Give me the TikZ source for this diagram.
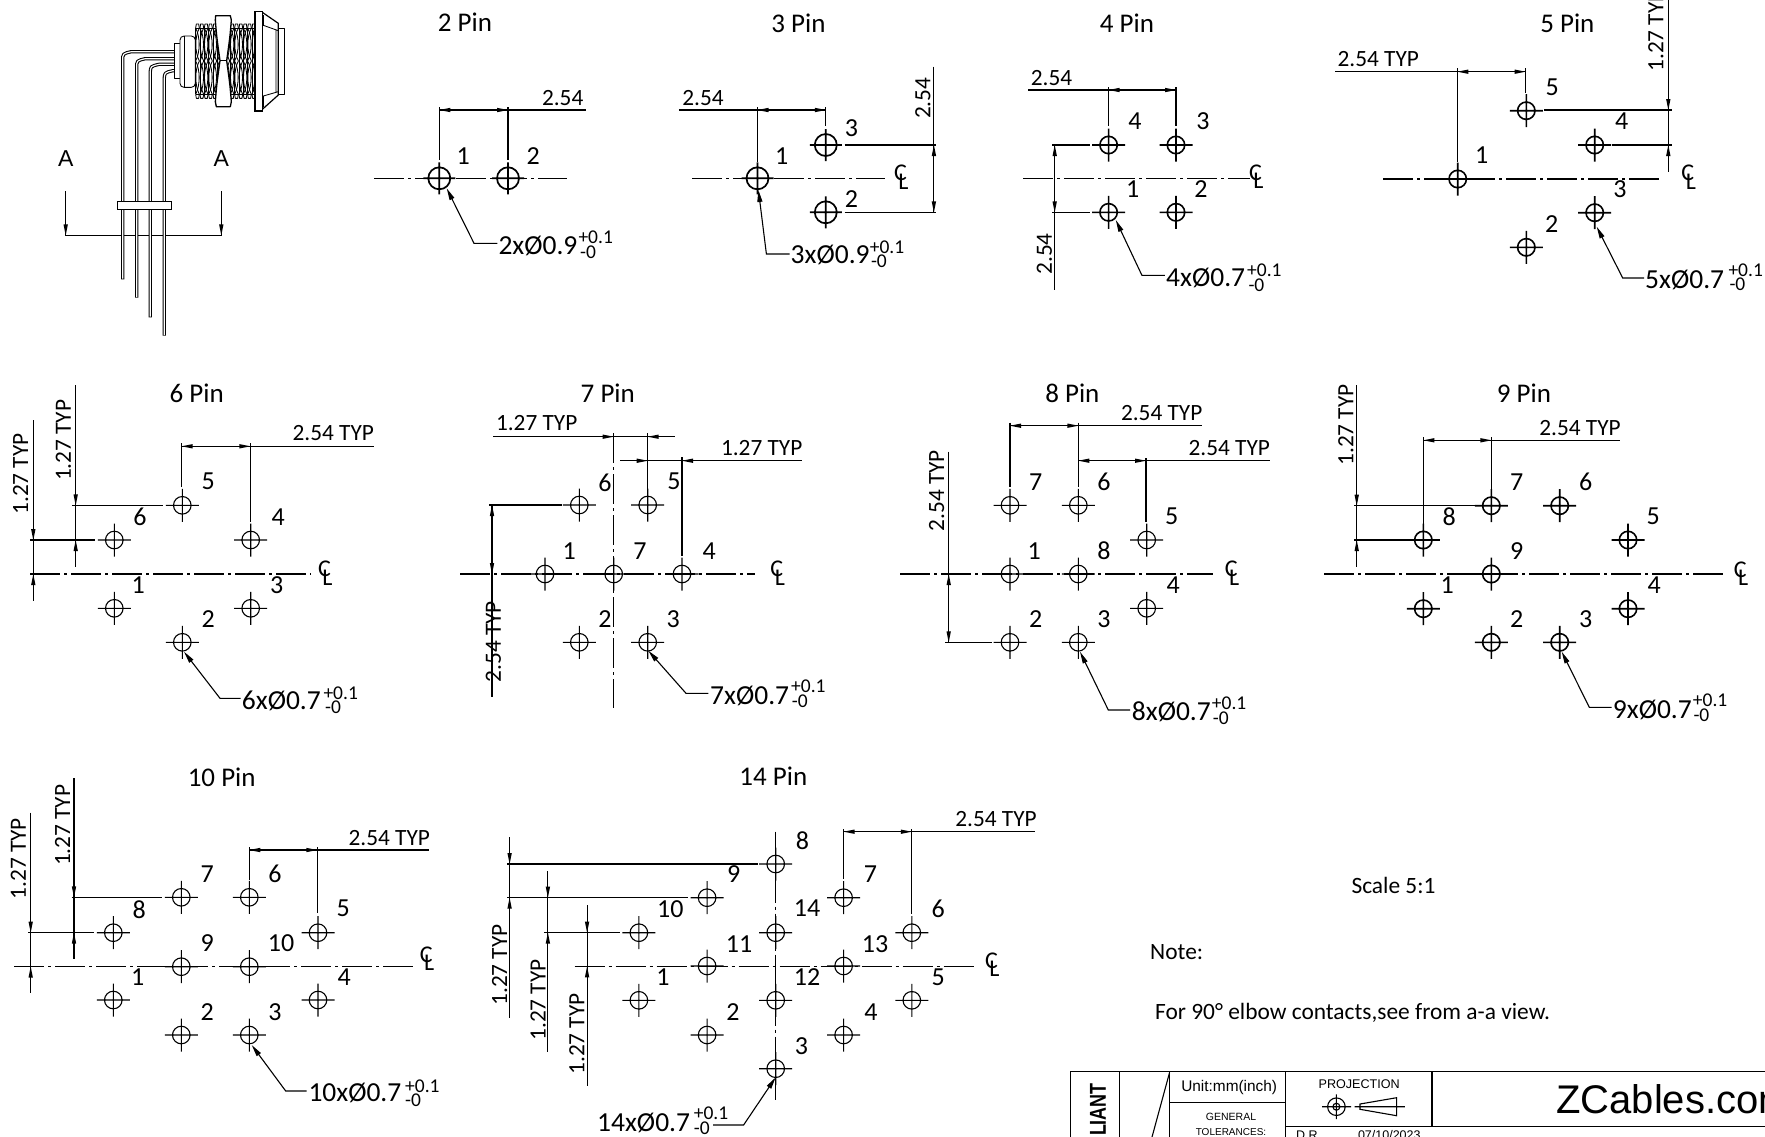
\documentclass[tikz,border=0pt]{standalone}
\usetikzlibrary{arrows.meta}
\usepackage{fontspec}
\setmainfont{Carlito}
\newfontfamily\arialf{Liberation Sans}
\newcommand{\fsz}[1]{\fontsize{#1}{#1}\selectfont}
\tikzset{
  ln/.style={line width=1.1pt,black},
  cline/.style={line width=1.1pt,black,dash pattern=on 30pt off 4pt on 3pt off 4pt},
  pinno/.style={font=\fsz{26},inner sep=0pt},
  title/.style={font=\fsz{27},inner sep=0pt},
  dimt/.style={font=\fsz{23.3},inner sep=0pt},
  cltext/.style={font=\fsz{24},inner sep=0pt},
  mainnote/.style={font=\fsz{27.5},inner sep=0pt,anchor=base west,yshift=-.7pt},
  tolnote/.style={font=\fsz{19.5},inner sep=0pt,anchor=west},
  body/.style={font=\fsz{23.4},inner sep=0pt},
  sect/.style={font=\arialf\fsz{23},inner sep=0pt},
  tb/.style={line width=1.2pt,black},
  tbt/.style={font=\arialf\fsz{#1},inner sep=0pt},
  leadertip/.style={line width=1.1pt,black,{Triangle[length=12pt,width=5pt]}-},
  conn/.style={line width=.85pt,black,line join=round},
}
\newcommand{\mkhole}[5]{\draw[line width=#3,black] (#1,#2) circle[radius=#4] (#1-#5,#2)--(#1+#5,#2) (#1,#2-#5)--(#1,#2+#5);}
\newcommand{\holeL}[2]{\mkhole{#1}{#2}{1.7pt}{11pt}{16}}
\newcommand{\holeT}[2]{\mkhole{#1}{#2}{1.6pt}{8.7pt}{16.5}}
\newcommand{\holeS}[2]{\mkhole{#1}{#2}{1.1pt}{8.8pt}{16.5}}
\newcommand{\atip}[3]{\fill[black,shift={(#1,#2)},rotate=#3] (0,0)--(-11,-2.2)--(-11,2.2)--cycle;}
\newcommand{\clmark}[3]{\node[cltext] (#1c) at (#2-1.5,#3-4.5) {C};\node[cltext] (#1l) at (#2+1.5,#3+4) {L};}
% name, x, base y, text, sup x, sup y, sub x, sub y
\newcommand{\tolr}[8]{\node[mainnote] (#1) at (#2,#3) {#4};
  \node[tolnote] (#1p) at (#5,#6) {+0.1};\node[tolnote] (#1m) at (#7,#8) {-0};}
\newcommand{\wire}[3]{%
  \draw[black,line width=3.3pt,line join=round] (#1,#2)--(#1,#3+28) .. controls (#1,#3+6) .. (#1+26,#3)--(432,#3);
  \draw[white,line width=1.2pt] (#1,#2-2)--(#1,#3+28) .. controls (#1,#3+6) .. (#1+26,#3)--(432,#3);}
\begin{document}
\begin{tikzpicture}[x=1pt,y=-1pt]
\useasboundingbox (0,0) rectangle (1765,1136);
\fill[white] (0,0) rectangle (1765,1136);
\clip (0,0) rectangle (1765,1136);

%% ---------- side view connector
\draw[line width=1.2pt] (65.7,191)--(65.7,235.3)--(221.3,235.3)--(221.3,191);
\atip{65.7}{235.3}{270}
\atip{221.3}{235.3}{270}
\node[sect] (sa) at (65.7,159) {A};
\node[sect] (sb) at (221.3,159) {A};
\begin{scope}[shift={(30,0)},x=.33333pt,y=-.33333pt]
  \wire{278}{838}{155}
  \wire{320}{893}{176}
  \wire{361}{952}{193}
  \wire{403}{1007}{212}
  % rear stub and collar
  \draw[conn,fill=white] (432,130) rectangle (450,235);
  \draw[conn,fill=white,rounded corners=4pt] (450,108) rectangle (496,262);
  \draw[conn] (462,108)--(462,262);
  % thread block
  \foreach \x in {497,510,523,536,549,562,575,588,601,614,627,640,653,666}{
    \draw[conn,fill=white] (\x,84)--(\x+2,72)--(\x+9,72)--(\x+11,84);
    \draw[conn,fill=white] (\x,283)--(\x+2,295)--(\x+9,295)--(\x+11,283);
    \draw[conn] (\x,84) .. controls (\x+14,112) and (\x+14,155) .. (\x,183) .. controls (\x+14,210) and (\x+14,255) .. (\x,283);
    \draw[conn] (\x+11,84) .. controls (\x-3,112) and (\x-3,155) .. (\x+11,183) .. controls (\x-3,210) and (\x-3,255) .. (\x+11,283);
    \draw[conn] (\x,84)--(\x,283);
  }
  \draw[conn] (497,84)--(675,84) (497,283)--(675,283);
  % nut (hourglass silhouette over the thread)
  \draw[line width=1.3pt,black,fill=white,line join=round] (557,47)--(601,47)--(604,60) .. controls (600,110) .. (590,182) .. controls (600,255) .. (604,305)--(601,320)--(559,320)--(556,305) .. controls (560,255) .. (570,182) .. controls (560,110) .. (556,60)--cycle;
  \draw[conn] (570,182)--(590,182);
  % flange and front
  \draw[conn,fill=white] (745,85) rectangle (763,283);
  \draw[line width=1.2pt,black,fill=white,line join=round] (697,37)--(745,70)--(745,285)--(697,328)--cycle;
  \draw[conn] (700,45)--(700,76)--(745,92) (700,322)--(700,288)--(745,275) (738,92)--(738,275) (697,76)--(697,288);
  \draw[line width=1.2pt,black,fill=white] (675,35) rectangle (697,333);
\end{scope}
\draw[line width=1.1pt,fill=white] (117.3,201.3) rectangle (171.7,209.3);

%% ---------- 2 Pin
\node[title] (t2) at (465,22.5) {2 Pin};
\draw[cline] (374,178.3)--(567.3,178.3);
\holeL{439.3}{178.3}\holeL{508}{178.3}
\draw[ln] (439.3,107)--(439.3,160) (508,107)--(508,160) (439.3,110)--(586,110);
\atip{439.3}{110}{180}\atip{508}{110}{0}
\node[dimt] (d2) at (562.7,98.3) {2.54};
\foreach \t/\x/\y in {1/463.3/155.7,2/533.3/155.7}{\node[pinno] (n2-\t) at (\x,\y) {\t};}
\draw[leadertip] (446.7,188.3)--(474,243.3)--(497.3,243.3);
\tolr{c2}{498.3}{254}{2xØ0.9}{578.3}{237.7}{580}{252.7}

%% ---------- 3 Pin
\node[title] (t3) at (798.5,23) {3 Pin};
\draw[cline] (692,178.3)--(885,178.3);
\holeL{757.5}{178.3}\holeL{825.8}{145}\holeL{825.8}{212.3}
\clmark{cl3}{902}{177.3}
\draw[ln] (678.8,110)--(825.8,110) (757.5,107)--(757.5,162) (825.8,107.3)--(825.8,126);
\atip{757.5}{110}{180}\atip{825.8}{110}{0}
\node[dimt] (d3a) at (703,98) {2.54};
\draw[ln] (933.9,66.7)--(933.9,212.3) (844.7,145)--(935.9,145) (844.7,212.3)--(935.9,212.3);
\atip{933.9}{145}{90}\atip{933.9}{212.3}{270}
\node[dimt,rotate=90] (d3b) at (923,98.3) {2.54};
\foreach \t/\x/\y in {1/781.6/155.7,3/851.5/127.7,2/851.5/199}{\node[pinno] (n3-\t) at (\x,\y) {\t};}
\draw[leadertip] (758.4,190)--(766.4,254)--(789.7,254);
\tolr{c3}{790.5}{263}{3xØ0.9}{869.6}{247.3}{870.8}{261.7}

%% ---------- 4 Pin
\node[title] (t4) at (1127,23) {4 Pin};
\draw[cline] (1023.4,178.3)--(1250.3,178.3);
\foreach \x/\y in {1108.6/145,1176/145,1108.6/212.3,1176/212.3}{\holeT{\x}{\y}}
\clmark{cl4}{1257}{177}
\draw[ln] (1028.2,90)--(1176,90) (1108.6,87.3)--(1108.6,126) (1176,87.3)--(1176,126);
\atip{1108.6}{90}{180}\atip{1176}{90}{0}
\node[dimt] (d4a) at (1051.5,78) {2.54};
\draw[ln] (1054.7,145)--(1054.7,290) (1052.3,145)--(1089.7,145) (1052.3,212.3)--(1089.7,212.3);
\atip{1054.7}{145}{90}\atip{1054.7}{212.3}{270}
\node[dimt,rotate=90] (d4b) at (1044.3,254) {2.54};
\foreach \t/\x/\y in {4/1135/120.7,3/1203/120.7,1/1132.6/189.3,2/1201/189.3}{\node[pinno] (n4-\t) at (\x,\y) {\t};}
\draw[leadertip] (1115.8,220)--(1141.9,275.3)--(1164.8,275.3);
\tolr{c4}{1166}{285.7}{4xØ0.7}{1247}{270}{1248.3}{285}

%% ---------- 5 Pin
\node[title] (t5) at (1567.3,23.3) {5 Pin};
\draw[cline] (1383.3,179)--(1661.7,179);
\foreach \x/\y in {1457.7/179,1526.3/110.7,1594.7/145,1594.7/212.7,1526.3/247.3}{\holeT{\x}{\y}}
\clmark{cl5}{1689.3}{177.3}
\draw[ln] (1335,71.7)--(1525.7,71.7) (1457.3,68.3)--(1457.3,161.7) (1525.7,68.3)--(1525.7,92.7);
\atip{1457.3}{71.7}{180}\atip{1525.7}{71.7}{0}
\node[dimt] (d5a) at (1378.3,59) {2.54 TYP};
\draw[ln] (1668.3,0)--(1668.3,171.7) (1544,110)--(1671.7,110) (1611.7,145)--(1671.7,145);
\atip{1668.3}{110}{270}\atip{1668.3}{145}{90}
\node[dimt,rotate=90] (d5b) at (1656,31) {1.27 TYP};
\foreach \t/\x/\y in {5/1552.3/87.3,4/1621.7/120.7,1/1481.7/155,3/1620/189.3,2/1551.7/224}{\node[pinno] (n5-\t) at (\x,\y) {\t};}
\draw[leadertip] (1596.7,226.7)--(1622.7,278)--(1644,278);
\tolr{c5}{1645}{287.3}{5xØ0.7}{1728.3}{270}{1729.3}{284}

%% ---------- 6 Pin
\node[title] (t6) at (196.7,393.5) {6 Pin};
\draw[cline] (30,574)--(311,574);
\foreach \x/\y in {114.3/540,250.7/540,182.3/505.3,114.3/608.3,250.7/608.3,182.3/642.3}{\holeS{\x}{\y}}
\clmark{cl6}{326}{573.3}
\draw[ln] (181.7,446.3)--(374,446.3) (181.7,443.3)--(181.7,486.7) (250.3,443.3)--(250.3,521.7);
\atip{181.7}{446.3}{180}\atip{250.3}{446.3}{0}
\node[dimt] (d6a) at (333.3,433.3) {2.54 TYP};
\draw[ln] (75.7,385)--(75.7,566.7) (72.3,505.3)--(163.3,505.3) (30,540)--(95,540) (33.3,420)--(33.3,601);
\atip{75.7}{505.3}{270}\atip{75.7}{540}{90}\atip{33.3}{540}{270}\atip{33.3}{574}{90}
\node[dimt,rotate=90] (d6b) at (63.3,440.3) {1.27 TYP};
\node[dimt,rotate=90] (d6c) at (20.7,474) {1.27 TYP};
\foreach \t/\x/\y in {5/208.3/481.7,4/278.3/516.7,6/140/516.7,1/138.3/585,3/276.7/585,2/208.3/619}{\node[pinno] (n6-\t) at (\x,\y) {\t};}
\draw[leadertip] (184,651.7)--(220,698.3)--(240.7,698.3);
\tolr{c6}{241.7}{709}{6xØ0.7}{323.3}{693.3}{325}{707.3}

%% ---------- 7 Pin
\node[title] (t7) at (607.8,393.5) {7 Pin};
\draw[cline] (460,574)--(755,574);
\draw[cline] (613.7,433.3)--(613.7,708.3);
\foreach \x/\y in {579.3/505,647.7/505,545/574,613.7/574,682/574,579.3/642.3,647.7/642.3}{\holeS{\x}{\y}}
\clmark{cl7}{778.3}{573.3}
\draw[ln] (493.3,436.7)--(675,436.7) (647.7,433.3)--(647.7,489.3) (620,460.7)--(802.3,460.7) (682,457.3)--(682,556);
\atip{613.7}{436.7}{0}\atip{647.7}{436.7}{180}\atip{647.7}{460.7}{0}\atip{682}{460.7}{180}
\node[dimt] (d7a) at (536.7,423.5) {1.27 TYP};
\node[dimt] (d7b) at (761.7,448.5) {1.27 TYP};
\draw[ln] (492,505)--(492,696.7) (489.3,505)--(561.7,505);
\atip{492}{505}{90}\atip{492}{574}{270}
\node[dimt,rotate=90] (d7c) at (493.3,641.7) {2.54 TYP};
\foreach \t/\x/\y in {1/569.3/550.7,7/640/550.7,4/709.3/550.7,6/605/482.7,5/674/481.7,2/605/619.3,3/673.3/619.3}{\node[pinno] (n7-\t) at (\x,\y) {\t};}
\draw[leadertip] (648.3,650.7)--(686,693.3)--(708.3,693.3);
\tolr{c7}{710}{704}{7xØ0.7}{791}{686.7}{791.7}{701.7}

%% ---------- 8 Pin
\node[title] (t8) at (1072.3,393.5) {8 Pin};
\draw[cline] (900,574)--(1213.3,574);
\foreach \x/\y in {1010/505.3,1078.3/505.3,1146.7/540,1010/574,1078.3/574,1146.7/608.3,1010/642.3,1078.3/642.3}{\holeS{\x}{\y}}
\clmark{cl8}{1232.7}{573.3}
\draw[ln] (1010,425.7)--(1201.7,425.7) (1010,422.7)--(1010,486.7) (1078.3,422.7)--(1078.3,486.7) (1078.3,460.7)--(1270,460.7) (1146,458.3)--(1146,521.7);
\atip{1010}{425.7}{180}\atip{1078.3}{425.7}{0}\atip{1078.3}{460.7}{180}\atip{1146}{460.7}{0}
\node[dimt] (d8a) at (1161.7,413.5) {2.54 TYP};
\node[dimt] (d8b) at (1229.3,448.3) {2.54 TYP};
\draw[ln] (948.7,451.7)--(948.7,642.3) (945,642.3)--(991.7,642.3);
\atip{948.7}{574}{90}\atip{948.7}{642.3}{270}
\node[dimt,rotate=90] (d8c) at (936.7,490.7) {2.54 TYP};
\foreach \t/\x/\y in {7/1035.7/481.7,6/1104/481.7,5/1171.7/516.7,1/1034.3/550.7,8/1104/550.7,4/1173.3/585,2/1035.7/619,3/1104/619}{\node[pinno] (n8-\t) at (\x,\y) {\t};}
\draw[leadertip] (1080,651.7)--(1108.3,710)--(1130,710);
\tolr{c8}{1131.7}{720}{8xØ0.7}{1211.7}{703.3}{1212.7}{718.3}

%% ---------- 9 Pin
\node[title] (t9) at (1524,393.5) {9 Pin};
\draw[cline] (1324,574)--(1726.7,574);
\foreach \x/\y in {1491.3/505.7,1559.7/505.7,1423.3/540,1628/540,1491.3/574,1423.3/608.7,1628/608.7,1491.3/642.3,1559.7/642.3}{\holeT{\x}{\y}}
\clmark{cl9}{1741.7}{574}
\draw[ln] (1423.3,440.3)--(1620,440.3) (1423.3,437.3)--(1423.3,526.7) (1491.3,437.3)--(1491.3,490);
\atip{1423.3}{440.3}{180}\atip{1491.3}{440.3}{0}
\node[dimt] (d9a) at (1580,428.3) {2.54 TYP};
\draw[ln] (1356.7,385)--(1356.7,566.7) (1354,505.7)--(1475.7,505.7) (1354,540)--(1406.7,540);
\atip{1356.7}{505.7}{270}\atip{1356.7}{540}{90}
\node[dimt,rotate=90] (d9b) at (1346,425) {1.27 TYP};
\foreach \t/\x/\y in {7/1516.7/481.7,6/1585.7/481.7,8/1449.3/516.7,5/1653.3/516.7,9/1516.7/550.7,1/1447.3/585,4/1654.3/585,2/1516.7/619,3/1585.7/619}{\node[pinno] (n9-\t) at (\x,\y) {\t};}
\draw[leadertip] (1561.7,651.7)--(1589.3,707.3)--(1611.7,707.3);
\tolr{c9}{1612.7}{717.3}{9xØ0.7}{1692.7}{700}{1693.3}{715}

%% ---------- 10 Pin
\node[title] (t10) at (221.7,777.3) {10 Pin};
\draw[cline] (14,966.7)--(416.7,966.7);
\foreach \x/\y in {181.3/897.3,249.3/897.3,113.3/932.7,318/932.7,181.3/966.7,249.3/966.7,113.3/1000,318/1000,181.3/1035,249.3/1035}{\holeS{\x}{\y}}
\clmark{cl10}{427.7}{959}
\draw[ln] (249.3,850)--(429.3,850) (249.3,847.3)--(249.3,880) (317.3,847.3)--(317.3,913.3);
\atip{249.3}{850}{180}\atip{317.3}{850}{0}
\node[dimt] (d10a) at (389.3,838.3) {2.54 TYP};
\draw[ln] (74,778.3)--(74,959.3) (71.7,897.3)--(162.3,897.3) (28.3,932.7)--(94,932.7) (30.7,812.7)--(30.7,993.3);
\atip{74}{897.3}{270}\atip{74}{932.7}{90}\atip{30.7}{932.7}{270}\atip{30.7}{966.7}{90}
\node[dimt,rotate=90] (d10b) at (62.7,825.3) {1.27 TYP};
\node[dimt,rotate=90] (d10c) at (18.3,858.7) {1.27 TYP};
\foreach \t/\x/\y in {7/207.3/874.3,6/275/874.3,8/139.3/909.3,5/343.3/908.3,9/207.3/943.3,10/281/943.3,1/137.7/977.3,4/344.3/977.3,2/207.3/1011.7,3/275/1011.7}{\node[pinno] (n10-\t) at (\x,\y) {\t};}
\draw[leadertip] (251.7,1045)--(285.7,1091)--(306.7,1091);
\tolr{c10}{308.3}{1101}{10xØ0.7}{405}{1086}{405}{1100}

%% ---------- 14 Pin
\node[title] (t14) at (773.3,776.7) {14 Pin};
\draw[cline] (574.6,966.3)--(974,966.3);
\draw[cline] (775.7,831.7)--(775.7,1100);
\foreach \x/\y in {775.7/864,707.1/897.7,843.6/897.7,638.9/932.7,775.7/932.7,911.8/932.7,707.1/966,843.6/966,638.9/1000.3,775.7/1000.3,911.8/1000.3,707.1/1035,843.6/1035,775.7/1068.7}{\holeS{\x}{\y}}
\clmark{cl14}{992.9}{965}
\draw[ln] (843.6,831.7)--(1035.4,831.7) (843.6,829.3)--(843.6,879.3) (911.8,829.3)--(911.8,914);
\atip{843.6}{831.7}{180}\atip{911.8}{831.7}{0}
\node[dimt] (d14a) at (996,819.3) {2.54 TYP};
\draw[ln] (507.1,864)--(757.9,864) (507.1,897.7)--(688.2,897.7) (544.3,932.7)--(620.4,932.7)
  (509.6,837.3)--(509.6,1017.7) (547.9,871)--(547.9,1052.3) (587.1,905)--(587.1,1086);
\atip{509.6}{864}{270}\atip{509.6}{897.7}{90}\atip{547.9}{897.7}{270}\atip{547.9}{932.7}{90}\atip{587.1}{932.7}{270}\atip{587.1}{966.3}{90}
\node[dimt,rotate=90] (d14b) at (499.6,965) {1.27 TYP};
\node[dimt,rotate=90] (d14c) at (538.2,1000) {1.27 TYP};
\node[dimt,rotate=90] (d14d) at (576.8,1034) {1.27 TYP};
\foreach \t/\x/\y in {8/802.5/841,9/733.6/874.3,7/870.4/874.3,10/670.4/909.3,14/807.1/908.3,6/938.2/909.3,11/739/944,13/875/944,1/662.9/977.3,12/807.1/977.3,5/938.2/977.3,2/732.9/1011.7,4/871/1011.7,3/801.4/1046}{\node[pinno] (n14-\t) at (\x,\y) {\t};}
\draw[leadertip] (775.7,1077.3)--(743.6,1125)--(713.2,1125);
\tolr{c14}{597}{1130.7}{14xØ0.7}{693.6}{1113.3}{693.6}{1128.3}

%% ---------- notes
\node[body] (scale) at (1393.5,885.8) {Scale 5:1};
\node[body,anchor=west] (note) at (1150,952) {Note:};
\node[body,anchor=west] (elbow) at (1154.9,1013) {For 90° elbow contacts,see from a-a view.};

%% ---------- title block
\draw[tb] (1070.5,1140)--(1070.5,1071.7)--(1770,1071.7);
\draw[tb] (1119.8,1071.7)--(1119.8,1140) (1169.5,1071.7)--(1169.5,1140) (1285.8,1071.7)--(1285.8,1140) (1432,1071.7)--(1432,1126.7);
\draw[ln] (1169.5,1072.7)--(1151.2,1140);
\draw[tb] (1169.5,1102.3)--(1285.8,1102.3) (1285.8,1126.7)--(1770,1126.7);
\node[font=\arialf\bfseries\fsz{23},inner sep=0pt,rotate=90,xscale=.78,anchor=east] (rohs) at (1097.9,1083) {LIANT};
\node[tbt=15.4] (unit) at (1229.2,1087.7) {Unit:mm(inch)};
\node[tbt=12.6] (proj) at (1359.2,1084.3) {PROJECTION};
\node[tbt=10.5] (gen) at (1231,1116.7) {GENERAL};
\node[tbt=10] (tol) at (1231,1131.7) {TOLERANCES:};
\node[tbt=40,anchor=base west] (brand) at (1556,1113.3) {ZCables.com};
\node[tbt=12.5,anchor=west] (dr) at (1296,1135) {D.R.};
\node[tbt=12.5,anchor=west] (date) at (1357.8,1135) {07/10/2023};
\draw[ln] (1336.4,1106.7) circle[radius=8.8pt] (1336.4,1106.7) circle[radius=3.5pt]
  (1322.2,1106.7)--(1351,1106.7) (1336.4,1094.3)--(1336.4,1119);
\draw[ln] (1360,1104)--(1396.6,1097.7)--(1396.6,1115.7)--(1360,1109.3)--cycle (1354.6,1106.7)--(1404.8,1106.7);
\end{tikzpicture}
\end{document}
